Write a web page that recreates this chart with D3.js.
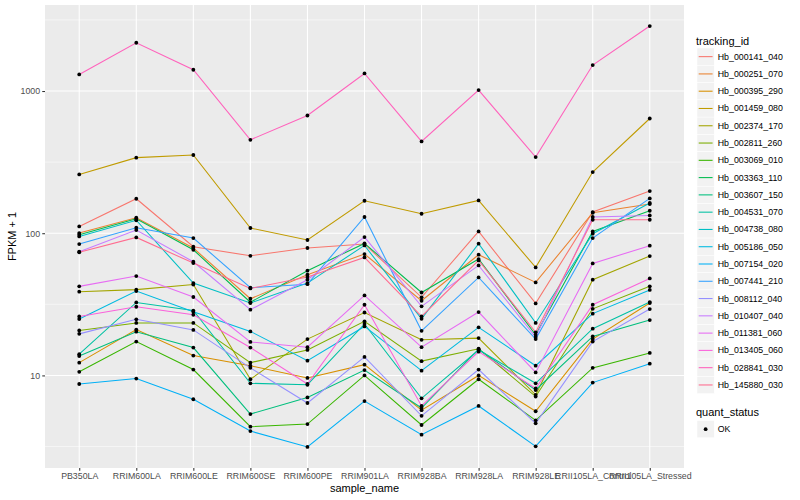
<!DOCTYPE html>
<html>
<head>
<meta charset="utf-8">
<script src="https://cdn.jsdelivr.net/npm/d3@7"></script>
<style>
body { margin: 0; background: #fff; }
text { font-family: "Liberation Sans", Arial, sans-serif; }
</style>
</head>
<body>
<div id="viz"></div>
<script>
var w = 800,
	h = 500,
	margin = {top: 5, right: 116, bottom: 32, left: 45};

var samples = ['PB350LA', 'RRIM600LA', 'RRIM600LE', 'RRIM600SE', 'RRIM600PE', 'RRIM901LA',
	'RRIM928BA', 'RRIM928LA', 'RRIM928LE', 'RRII105LA_Control', 'RRII105LA_Stressed'];

var ids = ['Hb_000141_040', 'Hb_000251_070', 'Hb_000395_290', 'Hb_001459_080', 'Hb_002374_170',
	'Hb_002811_260', 'Hb_003069_010', 'Hb_003363_110', 'Hb_003607_150', 'Hb_004531_070',
	'Hb_004738_080', 'Hb_005186_050', 'Hb_007154_020', 'Hb_007441_210', 'Hb_008112_040',
	'Hb_010407_040', 'Hb_011381_060', 'Hb_013405_060', 'Hb_028841_030', 'Hb_145880_030'];

var colors = ['#F8766D', '#EA8331', '#D89000', '#C09B00', '#A3A500', '#7CAE00', '#39B600', '#00BB4E',
	'#00BF7D', '#00C1A3', '#00BFC4', '#00BAE0', '#00B0F6', '#35A2FF', '#9590FF', '#C77CFF',
	'#E76BF3', '#FA62DB', '#FF62BC', '#FF6C90'];

// FPKM + 1, one row per tracking_id, one value per sample
var fpkm = [
	[111.6, 174.8, 80.4, 69.4, 78.7, 83.9, 35.4, 102.9, 32.1, 140.9, 198.0],
	[100.3, 128.5, 78.7, 34.6, 51.1, 71.4, 33.5, 70.6, 45.1, 139.3, 160.4],
	[12.3, 21.0, 13.8, 11.7, 9.6, 11.9, 5.7, 10.0, 5.6, 18.0, 32.3],
	[259, 340, 355, 108.8, 89.6, 169.2, 137.1, 170.0, 57.5, 269.3, 641],
	[38.8, 40.1, 43.6, 9.4, 18.0, 27.7, 17.8, 18.3, 7.3, 47.1, 69.1],
	[20.7, 23.4, 23.4, 12.3, 15.1, 24.0, 12.6, 15.4, 7.1, 29.4, 42.3],
	[10.6, 17.3, 11.0, 4.36, 4.55, 10.0, 4.48, 9.4, 4.83, 11.3, 14.4],
	[97.6, 126.4, 76.5, 32.7, 54.5, 84.8, 38.3, 65.8, 19.3, 102.9, 143.9],
	[13.7, 20.3, 15.7, 5.35, 7.0, 10.9, 5.9, 15.3, 7.9, 18.8, 24.5],
	[14.1, 32.6, 28.6, 8.8, 8.6, 23.0, 6.9, 15.1, 8.8, 21.3, 32.8],
	[94.9, 123.4, 44.6, 32.3, 44.6, 82.1, 25.0, 84.4, 23.4, 99.2, 163.1],
	[24.9, 39.2, 28.0, 20.4, 12.7, 22.1, 10.8, 21.8, 11.7, 27.2, 39.9],
	[8.7, 9.5, 6.8, 4.06, 3.14, 6.6, 3.83, 6.1, 3.17, 8.9, 12.1],
	[83.9, 109.3, 92.5, 41.4, 43.8, 130.0, 20.6, 48.9, 18.0, 92.5, 175.7],
	[19.6, 24.8, 20.9, 11.3, 6.4, 13.5, 5.2, 11.0, 4.6, 17.3, 29.3],
	[74.1, 105.3, 63.0, 29.0, 47.1, 94.0, 30.6, 59.4, 18.6, 130.0, 133.4],
	[42.3, 50.0, 35.6, 17.2, 15.8, 36.5, 15.8, 27.9, 10.5, 61.3, 81.7],
	[26.0, 30.4, 26.7, 15.7, 8.7, 31.4, 6.1, 14.7, 8.1, 31.4, 48.1],
	[1308, 2186, 1411, 454, 673, 1329, 442, 1016, 343, 1523, 2864],
	[73.5, 93.4, 61.7, 40.9, 49.2, 67.6, 26.0, 64.4, 20.1, 124.4, 124.4]
];

var yTicks = [10, 100, 1000],
	yMinor = [3.1623, 31.623, 316.23, 3162.3];

var quantStatus = ['OK'];

var series = ids.map(function(id, i){
	return {id: id, color: colors[i], values: fpkm[i].map(function(v, j){ return {sample: samples[j], value: v}; })};
});

var allVals = d3.merge(fpkm),
	lo = Math.log10(d3.min(allVals)),
	hi = Math.log10(d3.max(allVals)),
	pad = (hi - lo) * 0.05;

var x = d3.scalePoint()
	.domain(samples)
	.range([margin.left, w - margin.right])
	.padding(0.6);

var y = d3.scaleLog()
	.domain([Math.pow(10, lo - pad), Math.pow(10, hi + pad)])
	.range([h - margin.bottom, margin.top]);

var svg = d3.select('#viz').append('svg')
	.attr('width', w)
	.attr('height', h);

var panelW = w - margin.right - margin.left,
	panelH = h - margin.bottom - margin.top;

svg.append('rect')
	.attr('x', margin.left)
	.attr('y', margin.top)
	.attr('width', panelW)
	.attr('height', panelH)
	.attr('fill', '#EBEBEB');

//GRID
svg.selectAll('.minor')
	.data(yMinor.filter(function(d){ return d > y.domain()[0] && d < y.domain()[1]; }))
	.enter().append('line')
		.attr('x1', margin.left)
		.attr('x2', margin.left + panelW)
		.attr('y1', function(d){ return y(d); })
		.attr('y2', function(d){ return y(d); })
		.attr('stroke', '#fff')
		.attr('stroke-width', 0.53);

svg.selectAll('.major-y')
	.data(yTicks)
	.enter().append('line')
		.attr('x1', margin.left)
		.attr('x2', margin.left + panelW)
		.attr('y1', function(d){ return y(d); })
		.attr('y2', function(d){ return y(d); })
		.attr('stroke', '#fff')
		.attr('stroke-width', 1.07);

svg.selectAll('.major-x')
	.data(samples)
	.enter().append('line')
		.attr('x1', function(d){ return x(d); })
		.attr('x2', function(d){ return x(d); })
		.attr('y1', margin.top)
		.attr('y2', margin.top + panelH)
		.attr('stroke', '#fff')
		.attr('stroke-width', 1.07);

//LINES
var line = d3.line()
	.x(function(d){ return x(d.sample); })
	.y(function(d){ return y(d.value); });

svg.selectAll('.series')
	.data(series)
	.enter().append('path')
		.attr('d', function(d){ return line(d.values); })
		.attr('fill', 'none')
		.attr('stroke', function(d){ return d.color; })
		.attr('stroke-width', 1.07);

//POINTS
svg.selectAll('.pt')
	.data(d3.merge(series.map(function(s){ return s.values; })))
	.enter().append('circle')
		.attr('cx', function(d){ return x(d.sample); })
		.attr('cy', function(d){ return y(d.value); })
		.attr('r', 1.9)
		.attr('fill', '#000');

//AXES
var yAxis = svg.append('g')
	.attr('transform', 'translate(' + margin.left + ',0)')
	.call(d3.axisLeft(y).tickValues(yTicks).tickFormat(d3.format('d')).tickSize(2.75).tickPadding(2.2));

var xAxis = svg.append('g')
	.attr('transform', 'translate(0,' + (margin.top + panelH) + ')')
	.call(d3.axisBottom(x).tickSize(2.75).tickPadding(2.2));

[xAxis, yAxis].forEach(function(a){
	a.select('.domain').remove();
	a.selectAll('.tick line').attr('stroke', '#333').attr('stroke-width', 1.07);
	a.selectAll('.tick text')
		.attr('fill', '#4D4D4D')
		.style('font-size', '8.8px')
		.style('font-family', '"Liberation Sans", Arial, sans-serif');
});

svg.append('text')
	.attr('x', margin.left + panelW / 2)
	.attr('y', 492)
	.attr('text-anchor', 'middle')
	.style('font-size', '11px')
	.text('sample_name');

svg.append('text')
	.attr('transform', 'translate(16,' + (margin.top + panelH / 2) + ') rotate(-90)')
	.attr('text-anchor', 'middle')
	.style('font-size', '11px')
	.text('FPKM + 1');

//LEGEND
var keySize = 17.28,
	legX = 697,
	legTop = 48;

svg.append('text')
	.attr('x', 696)
	.attr('y', 44.5)
	.style('font-size', '11px')
	.text('tracking_id');

var keys = svg.selectAll('.key')
	.data(series)
	.enter().append('g')
		.attr('transform', function(d, i){ return 'translate(' + legX + ',' + (legTop + i * keySize) + ')'; });

keys.append('rect')
	.attr('width', keySize)
	.attr('height', keySize)
	.attr('fill', '#F2F2F2')
	.attr('stroke', '#fff')
	.attr('stroke-width', 0.5);

keys.append('line')
	.attr('x1', 1.7)
	.attr('x2', keySize - 1.7)
	.attr('y1', keySize / 2)
	.attr('y2', keySize / 2)
	.attr('stroke', function(d){ return d.color; })
	.attr('stroke-width', 1.07);

keys.append('text')
	.attr('x', keySize + 3.5)
	.attr('y', keySize / 2)
	.attr('dy', '0.34em')
	.style('font-size', '8.8px')
	.text(function(d){ return d.id; });

var qTop = 420.5;
svg.append('text')
	.attr('x', 696)
	.attr('y', 416)
	.style('font-size', '11px')
	.text('quant_status');

var qKeys = svg.selectAll('.qkey')
	.data(quantStatus)
	.enter().append('g')
		.attr('transform', function(d, i){ return 'translate(' + legX + ',' + (qTop + i * keySize) + ')'; });

qKeys.append('rect')
	.attr('width', keySize)
	.attr('height', keySize)
	.attr('fill', '#F2F2F2')
	.attr('stroke', '#fff')
	.attr('stroke-width', 0.5);

qKeys.append('circle')
	.attr('cx', keySize / 2)
	.attr('cy', keySize / 2)
	.attr('r', 1.9)
	.attr('fill', '#000');

qKeys.append('text')
	.attr('x', keySize + 3.5)
	.attr('y', keySize / 2)
	.attr('dy', '0.34em')
	.style('font-size', '8.8px')
	.text(function(d){ return d; });
</script>
</body>
</html>
